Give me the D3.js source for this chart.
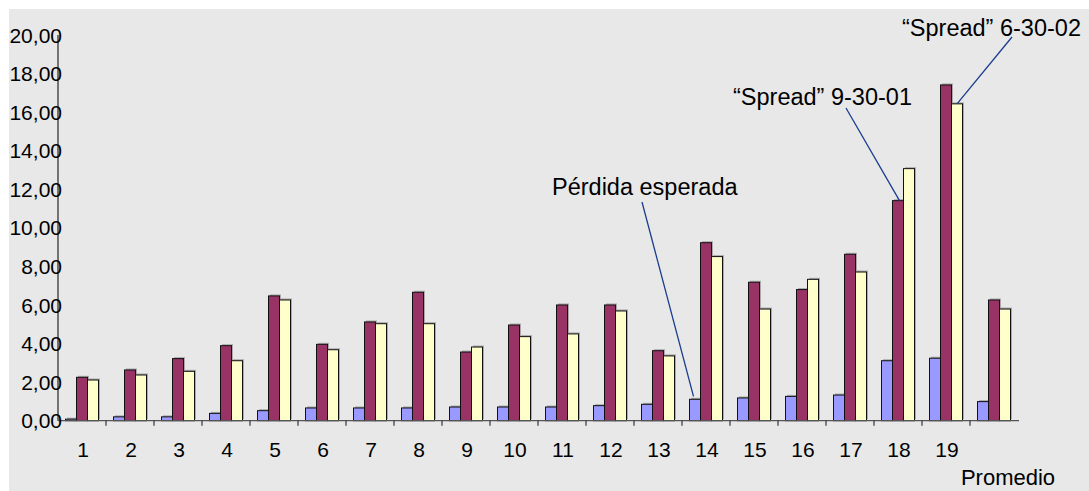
<!DOCTYPE html>
<html>
<head>
<meta charset="utf-8">
<script src="https://cdn.jsdelivr.net/npm/d3@7"></script>
<style>
  html, body { margin: 0; padding: 0; background: #ffffff; }
  svg { display: block; font-family: "Liberation Sans", Arial, sans-serif; }
</style>
</head>
<body>
<svg id="chart" width="1089" height="491"></svg>
<script>
// ---- data ----
const categories = ["1","2","3","4","5","6","7","8","9","10","11","12","13","14","15","16","17","18","19","Promedio"];
const seriesNames = ["Pérdida esperada", "“Spread” 9-30-01", "“Spread” 6-30-02"];
const perdidaEsperada = [0.08,0.20,0.20,0.38,0.52,0.66,0.66,0.66,0.71,0.71,0.71,0.78,0.85,1.11,1.18,1.26,1.33,3.11,3.24,0.99];
const spread093001   = [2.25,2.63,3.22,3.89,6.47,3.96,5.12,6.66,3.56,4.96,6.00,6.00,3.63,9.23,7.18,6.80,8.63,11.41,17.41,6.26];
const spread063002   = [2.11,2.37,2.56,3.11,6.26,3.68,5.03,5.03,3.82,4.36,4.50,5.69,3.36,8.51,5.79,7.33,7.71,13.07,16.43,5.79];
const yTicks = [0,2,4,6,8,10,12,14,16,18,20];
const seriesColors = ["#9999ff", "#993366", "#ffffcc"];

const series = [perdidaEsperada, spread093001, spread063002];

// ---- layout ----
const svg = d3.select("#chart");
const W = 1089, H = 491;
const plot = {left: 58, right: 1018, top: 35, bottom: 420.7};

svg.append("rect").attr("x", 9).attr("y", 9).attr("width", W - 9).attr("height", H - 9).attr("fill", "#e8e8e8");

const x0 = d3.scaleBand().domain(categories).range([plot.left, plot.right])
  .paddingInner(0.3125).paddingOuter(0.15625);
const x1 = d3.scaleBand().domain(d3.range(series.length)).range([0, x0.bandwidth()]);
const y = d3.scaleLinear().domain([0, 20]).range([plot.bottom, plot.top]);
const step = x0.step();

// ---- bars ----
const groups = svg.append("g").selectAll("g").data(categories).join("g")
  .attr("transform", d => `translate(${x0(d)},0)`);

const barData = (c, i) => series.map((s, k) => ({k, v: s[i]}));

groups.each(function(c, i) {
  const g = d3.select(this);
  g.selectAll("rect.shadow").data(barData(c, i)).join("rect")
    .attr("class", "shadow")
    .attr("x", d => x1(d.k) + 1.5)
    .attr("y", d => y(d.v) - 1.5)
    .attr("width", x1.bandwidth())
    .attr("height", d => plot.bottom - y(d.v))
    .attr("fill", "#777").attr("opacity", 0.55);
  g.selectAll("rect.bar").data(barData(c, i)).join("rect")
    .attr("class", "bar")
    .attr("x", d => x1(d.k))
    .attr("y", d => y(d.v))
    .attr("width", x1.bandwidth())
    .attr("height", d => plot.bottom - y(d.v))
    .attr("fill", d => seriesColors[d.k])
    .attr("stroke", "#111").attr("stroke-width", 1);
});

// ---- axes ----
const axisColor = "#333";
svg.append("line").attr("x1", plot.left).attr("x2", plot.left)
  .attr("y1", y(20)).attr("y2", plot.bottom)
  .attr("stroke", axisColor).attr("stroke-width", 1.3);
svg.append("line").attr("x1", plot.left).attr("x2", plot.right + 1)
  .attr("y1", plot.bottom).attr("y2", plot.bottom)
  .attr("stroke", "#555").attr("stroke-width", 1.3);
svg.append("g").selectAll("line").data(categories.slice(1)).join("line")
  .attr("x1", d => x0(d) - x0.paddingInner() * step / 2)
  .attr("x2", d => x0(d) - x0.paddingInner() * step / 2)
  .attr("y1", plot.bottom).attr("y2", plot.bottom + 5)
  .attr("stroke", axisColor).attr("stroke-width", 1.2);

const fmt = v => d3.format(".2f")(v).replace(".", ",");
svg.append("g").selectAll("text").data(yTicks).join("text")
  .attr("x", 62).attr("y", d => y(d))
  .attr("dy", "0.36em")
  .attr("text-anchor", "end")
  .attr("font-size", 21).attr("fill", "#000")
  .text(fmt);

svg.append("g").selectAll("text").data(categories.filter(c => c !== "Promedio")).join("text")
  .attr("x", d => x0(d) + x0.bandwidth() / 2 + 1)
  .attr("y", 457)
  .attr("text-anchor", "middle")
  .attr("font-size", 21).attr("fill", "#000")
  .text(d => d);
svg.append("text")
  .attr("x", x0("Promedio") + x0.bandwidth() / 2 + 14)
  .attr("y", 485)
  .attr("text-anchor", "middle")
  .attr("font-size", 22).attr("fill", "#000")
  .text("Promedio");

// ---- annotations ----
const barTop = (k, cat) => {
  const i = categories.indexOf(cat);
  return {x: x0(cat) + x1(k), y: y(series[k][i])};
};
const annColor = "#1a3d8f";
const annotations = [
  {text: seriesNames[0], tx: 552, ty: 195, lx: 642, ly: 202, k: 0, cat: "14", dx: 4, dy: -3},
  {text: seriesNames[1], tx: 733, ty: 105, lx: 846, ly: 108, k: 1, cat: "18", dx: 7, dy: 0},
  {text: seriesNames[2], tx: 902, ty: 36, lx: 1012, ly: 37, k: 2, cat: "19", dx: 5.5, dy: 0}
];
annotations.forEach(a => {
  const b = barTop(a.k, a.cat);
  svg.append("line")
    .attr("x1", a.lx).attr("y1", a.ly)
    .attr("x2", b.x + a.dx).attr("y2", b.y + a.dy)
    .attr("stroke", annColor).attr("stroke-width", 1.3);
  svg.append("text")
    .attr("x", a.tx).attr("y", a.ty)
    .attr("font-size", 23.5).attr("fill", "#000")
    .text(a.text);
});
</script>
</body>
</html>
